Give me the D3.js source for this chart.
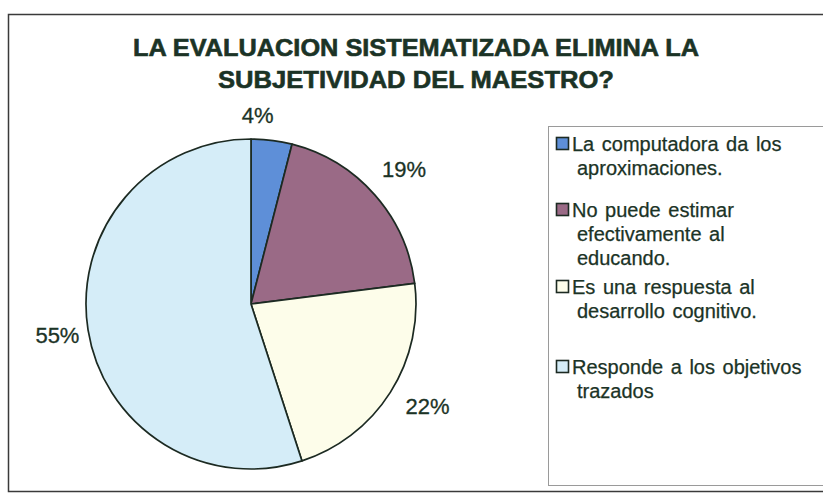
<!DOCTYPE html>
<html>
<head>
<meta charset="utf-8">
<script src="https://cdn.jsdelivr.net/npm/d3@7"></script>
<style>
  body { margin: 0; background: #ffffff; }
  svg { display: block; }
</style>
</head>
<body>
<div id="container"></div>
<script>
// ******* Chart data *******
var categories = [
  "La computadora da los aproximaciones.",
  "No puede estimar efectivamente al educando.",
  "Es una respuesta al desarrollo cognitivo.",
  "Responde a los objetivos trazados"
];
var legend_lines = [
  ["La computadora da los", "aproximaciones."],
  ["No puede estimar", "efectivamente al", "educando."],
  ["Es una respuesta al", "desarrollo cognitivo."],
  ["Responde a los objetivos", "trazados"]
];
var values = [4, 19, 22, 55];
var colors = ["#5e8fd8", "#9a6a86", "#fdfdea", "#d5edf8"];
var title_lines = ["LA EVALUACION SISTEMATIZADA ELIMINA LA", "SUBJETIVIDAD DEL MAESTRO?"];

var width = 823, height = 496;
var ink = "#1b3326";
var font = "'Liberation Sans', Arial, sans-serif";

var svg = d3.select("#container").append("svg")
  .attr("width", width)
  .attr("height", height);

// outer frame (runs off the right edge like the scan)
svg.append("rect")
  .attr("x", 8.5).attr("y", 14.5)
  .attr("width", 830).attr("height", 477)
  .attr("fill", "#ffffff")
  .attr("stroke", "#3a3a3a")
  .attr("stroke-width", 1.5);

// ******* Title *******
svg.selectAll(".title")
  .data(title_lines)
  .enter().append("text")
  .attr("class", "title")
  .attr("x", 416)
  .attr("y", function(d, i) { return 56 + i * 32; })
  .attr("text-anchor", "middle")
  .attr("textLength", function(d, i) { return i == 0 ? 566 : 396; })
  .attr("lengthAdjust", "spacingAndGlyphs")
  .style("font-family", font)
  .style("font-weight", "bold")
  .style("font-size", "24px")
  .style("fill", ink)
  .style("stroke", ink)
  .style("stroke-width", 0.6)
  .text(function(d) { return d; });

// ******* Pie *******
var cx = 251, cy = 304, r = 165;

var pie = d3.pie().sort(null).value(function(d) { return d; });
var arcs = pie(values);
var arc = d3.arc().innerRadius(0).outerRadius(r);

var g = svg.append("g").attr("transform", "translate(" + cx + "," + cy + ")");

g.selectAll("path")
  .data(arcs)
  .enter().append("path")
  .attr("d", arc)
  .attr("fill", function(d, i) { return colors[i]; })
  .attr("stroke", "#1c2a22")
  .attr("stroke-width", 1.7)
  .attr("stroke-linejoin", "round");

// percentage labels, placed outside the slices
var label_radius = [189, 204, 204, 196];
var label_shift = [-0.09, 0, -0.04, 0]; // small angle nudges (radians)
g.selectAll(".pct")
  .data(arcs)
  .enter().append("text")
  .attr("class", "pct")
  .attr("transform", function(d, i) {
    var a = (d.startAngle + d.endAngle) / 2 + label_shift[i];
    var lr = label_radius[i];
    return "translate(" + (Math.sin(a) * lr) + "," + (-Math.cos(a) * lr) + ")";
  })
  .attr("text-anchor", "middle")
  .attr("dy", "0.36em")
  .style("font-family", font)
  .style("font-size", "22px")
  .style("fill", ink)
  .style("stroke", ink)
  .style("stroke-width", 0.3)
  .text(function(d) { return d.data + "%"; });

// ******* Legend *******
svg.append("rect")
  .attr("x", 548.5).attr("y", 126.5)
  .attr("width", 290).attr("height", 359)
  .attr("fill", "#ffffff")
  .attr("stroke", "#9a9a9a")
  .attr("stroke-width", 1);

var legend_y = [151, 217, 294, 374];
var legend = svg.selectAll(".legend")
  .data(categories)
  .enter().append("g")
  .attr("class", "legend")
  .attr("transform", function(d, i) { return "translate(556," + legend_y[i] + ")"; });

legend.append("rect")
  .attr("x", 0.5).attr("y", -13.5)
  .attr("width", 12).attr("height", 12)
  .attr("fill", function(d, i) { return colors[i]; })
  .attr("stroke", "#1c2a22")
  .attr("stroke-width", 1.6);

legend.each(function(d, i) {
  d3.select(this).selectAll("text")
    .data(legend_lines[i])
    .enter().append("text")
    .attr("x", function(t, j) { return j == 0 ? 16 : 21; })
    .attr("y", function(t, j) { return j * 24; })
    .style("font-family", font)
    .style("font-size", "20px")
    .style("word-spacing", "2px")
    .style("fill", ink)
    .style("stroke", ink)
    .style("stroke-width", 0.25)
    .text(function(t) { return t; });
});
</script>
</body>
</html>
